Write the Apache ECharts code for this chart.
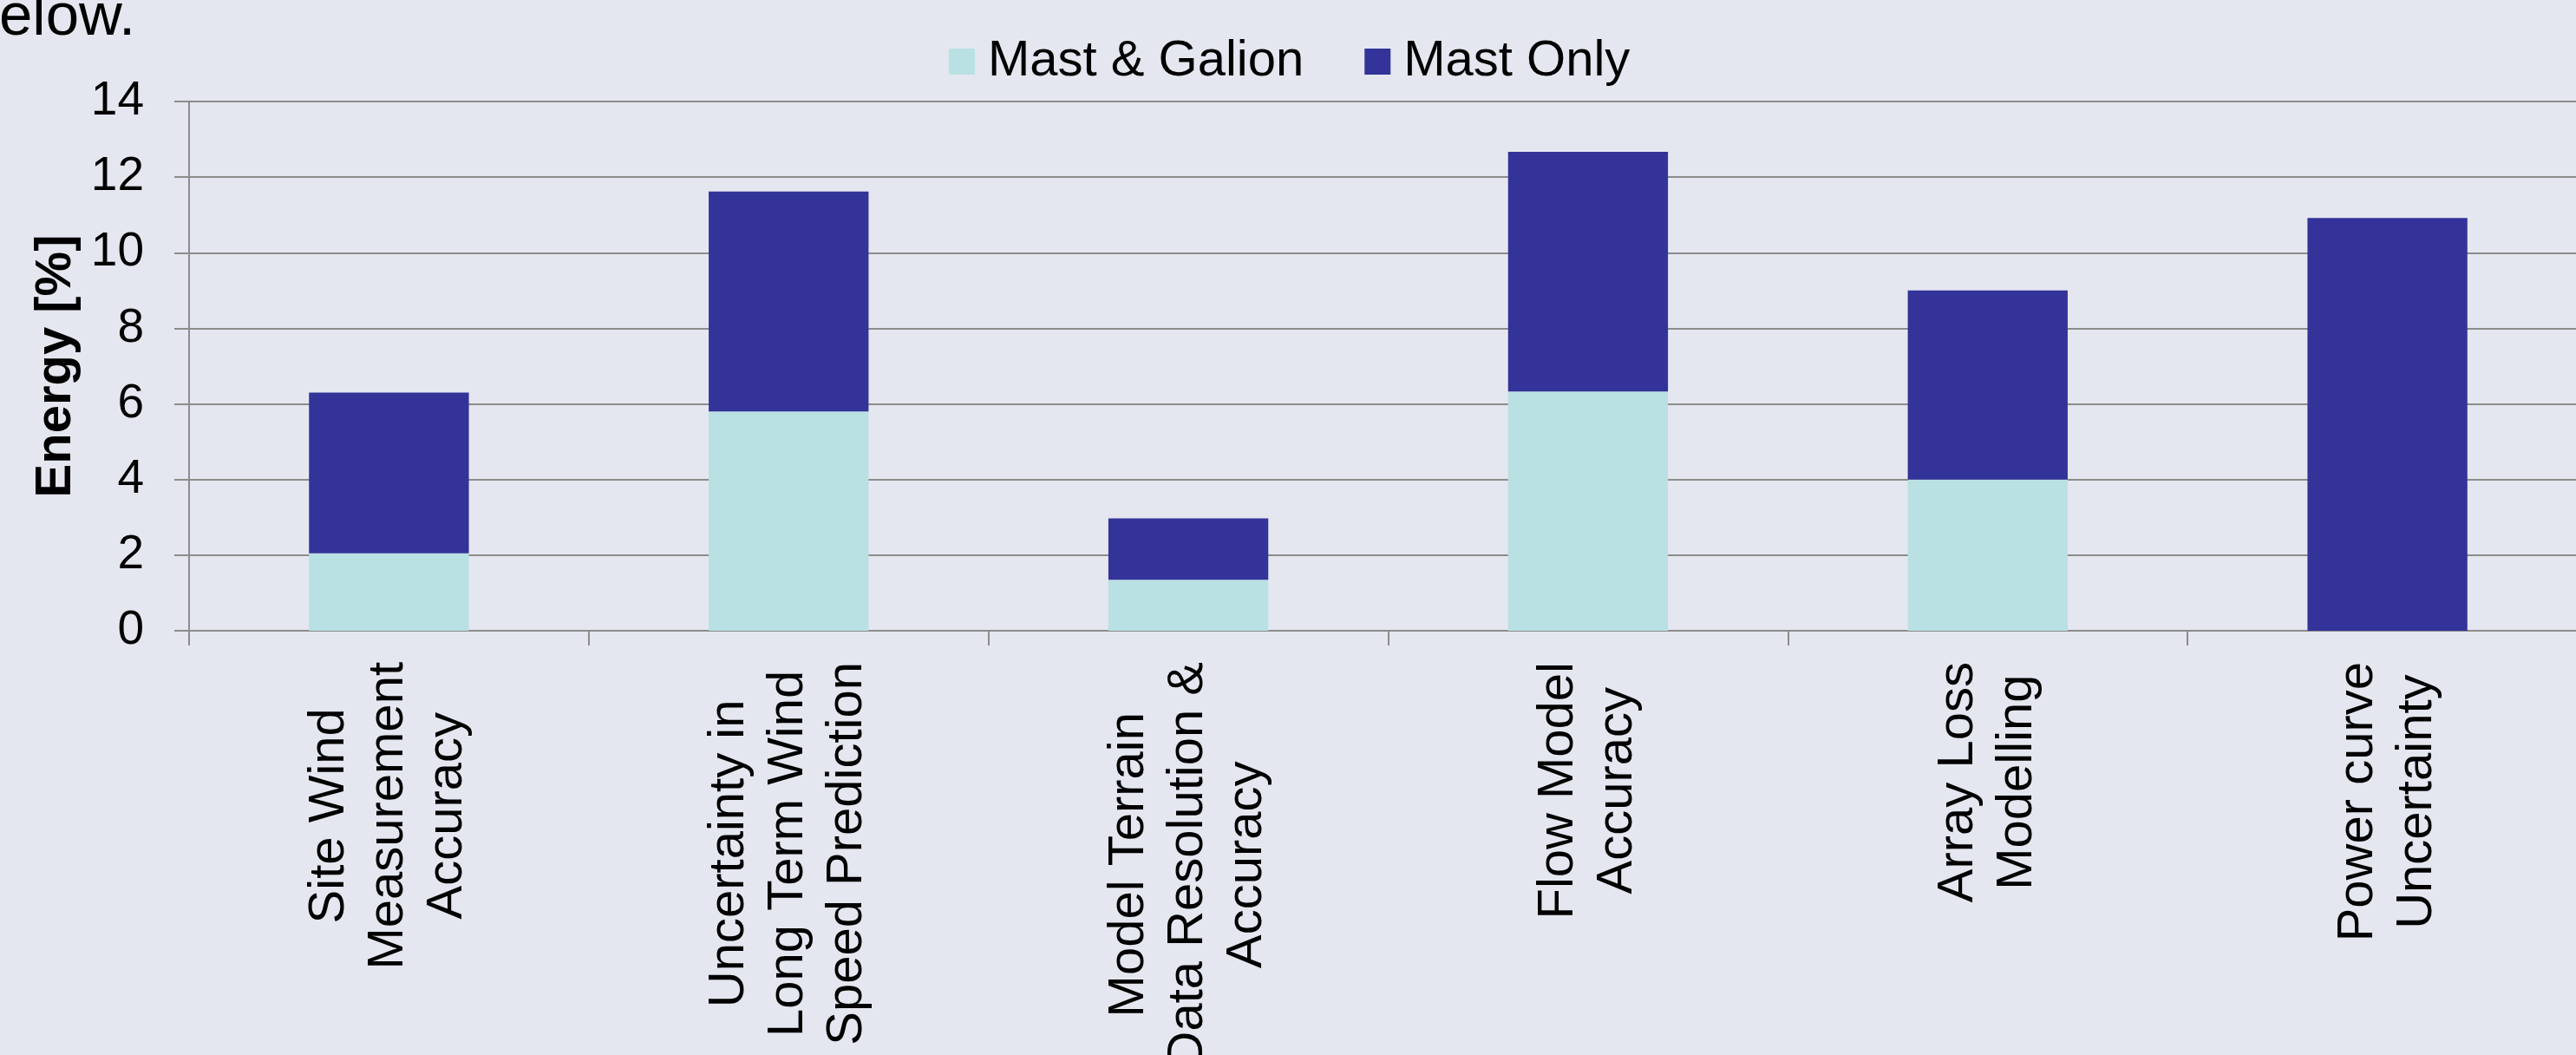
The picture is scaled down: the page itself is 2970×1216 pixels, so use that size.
<!DOCTYPE html>
<html>
<head>
<meta charset="utf-8">
<script src="https://cdn.jsdelivr.net/npm/echarts@6/dist/echarts.min.js"></script>
<style>
  html, body { margin: 0; padding: 0; background: #e4e7ef; }
  #chart { width: 2970px; height: 1216px; }
</style>
</head>
<body>
<div id="chart"></div>
<script>
// categories on the x axis (line breaks as in the picture)
const categories = [
  "Site Wind\nMeasurement\nAccuracy",
  "Uncertainty in\nLong Term Wind\nSpeed Prediction",
  "Model Terrain\nData Resolution &\nAccuracy",
  "Flow Model\nAccuracy",
  "Array Loss\nModelling",
  "Power curve\nUncertainty"
];
const seriesNames = ["Mast & Galion", "Mast Only"];
// stacked values, Energy [%]
const mastGalion = [2.05, 5.8, 1.35, 6.33, 4.0, 0];
const mastOnly = [4.25, 5.82, 1.62, 6.34, 5.0, 10.92];

const font = "'Liberation Sans', Arial, sans-serif";
const gridColor = "#8c8c8c";

let chart = echarts.init(document.getElementById("chart"));

let option = {
  backgroundColor: "#e4e7ef",
  animation: false,
  textStyle: { fontFamily: font, color: "#000" },
  graphic: [
    {
      // leftover of the surrounding page text
      type: "text",
      left: -1,
      top: -14,
      style: { text: "elow.", font: "69px " + font, fill: "#000" }
    }
  ],
  legend: {
    left: 1089,
    top: 36,
    itemWidth: 30,
    itemHeight: 30,
    itemGap: 70,
    icon: "rect",
    textStyle: { fontSize: 58, fontFamily: font, color: "#000", lineHeight: 60, padding: [0, 0, 0, 10] },
    data: seriesNames
  },
  // fixed plot box, labels may run past the canvas edge like in the picture
  grid: { left: 218, top: 117, width: 2765, bottom: 489, outerBoundsMode: "none", containLabel: false },
  xAxis: {
    type: "category",
    data: categories,
    axisLine: { lineStyle: { color: gridColor, width: 2 } },
    axisTick: { show: true, length: 17, lineStyle: { color: gridColor, width: 2 } },
    axisLabel: {
      rotate: 90,
      margin: 36,
      interval: 0,
      fontSize: 58,
      lineHeight: 68,
      color: "#000",
      formatter: function (v) {
        return v.split("\n").map(function (s) { return "{c|" + s + "}"; }).join("\n");
      },
      rich: { c: { align: "center", fontSize: 58, lineHeight: 68, fontFamily: font, color: "#000" } }
    }
  },
  yAxis: {
    type: "value",
    min: 0,
    max: 14,
    interval: 2,
    name: "Energy [%]",
    nameLocation: "middle",
    nameGap: 122,
    nameTextStyle: { fontSize: 58, fontWeight: "bold", fontFamily: font, color: "#000" },
    axisLine: { show: true, lineStyle: { color: gridColor, width: 2 } },
    axisTick: { show: true, length: 17, lineStyle: { color: gridColor, width: 2 } },
    axisLabel: { fontSize: 55, margin: 52, color: "#000", fontFamily: font },
    splitLine: { lineStyle: { color: gridColor, width: 2 } }
  },
  series: [
    {
      name: seriesNames[0],
      type: "bar",
      stack: "total",
      barWidth: "40%",
      itemStyle: { color: "#b9e0e3" },
      data: mastGalion
    },
    {
      name: seriesNames[1],
      type: "bar",
      stack: "total",
      barWidth: "40%",
      itemStyle: { color: "#333399" },
      data: mastOnly
    }
  ]
};

chart.setOption(option);
</script>
</body>
</html>
